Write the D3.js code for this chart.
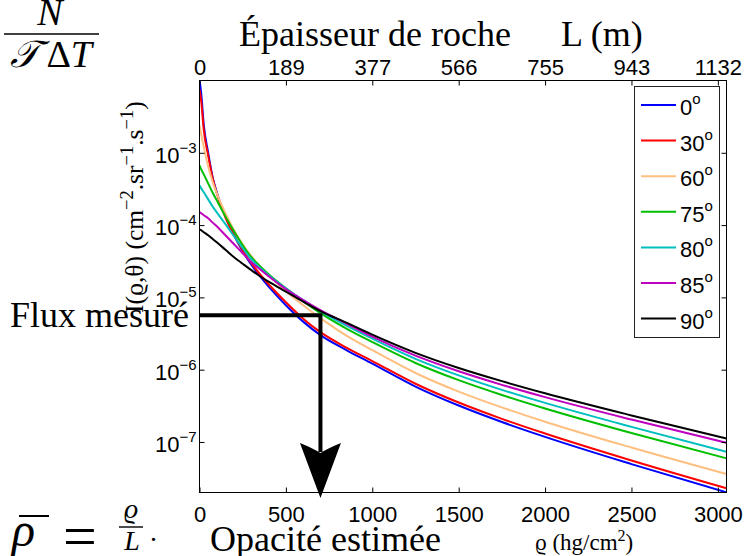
<!DOCTYPE html>
<html><head><meta charset="utf-8">
<script src="https://cdn.jsdelivr.net/npm/d3@7"></script>
<style>
body{margin:0;background:#fff}
svg{display:block}
.serif{font-family:"Liberation Serif","Times New Roman",serif}
.sans{font-family:"Liberation Sans",Arial,sans-serif}
</style></head><body>
<svg id="chart" width="746" height="556"></svg>
<script>
// Opacity samples (hg/cm²) shared by every zenith-angle curve
const opacityValues = [0,10,25,50,75,100,150,200,250,300,350,400,500,600,700,850,1000,1250,1500,1750,2000,2500,3050];
// Integrated muon flux I(ϱ,θ) in cm⁻².sr⁻¹.s⁻¹ for each zenith angle
const flux0  = [1.03e-2,6.61e-3,2.39e-3,1.01e-3,4.72e-4,2.84e-4,1.32e-4,7.23e-5,4.35e-5,2.83e-5,1.96e-5,1.41e-5,7.80e-6,4.62e-6,3.01e-6,1.87e-6,1.214e-6,5.84e-7,3.19e-7,1.889e-7,1.176e-7,4.94e-8,2.01e-8];
const flux30 = [7.51e-3,5.13e-3,2.04e-3,9.2e-4,4.57e-4,2.75e-4,1.28e-4,7.23e-5,4.49e-5,2.97e-5,2.09e-5,1.52e-5,8.58e-6,5.08e-6,3.31e-6,2.02e-6,1.315e-6,6.39e-7,3.51e-7,2.09e-7,1.310e-7,5.55e-8,2.29e-8];
const flux60 = [2.39e-3,1.80e-3,1.19e-3,6.49e-4,4.03e-4,2.75e-4,1.46e-4,8.48e-5,5.43e-5,3.71e-5,2.70e-5,2.03e-5,1.22e-5,7.8e-6,5.16e-6,2.96e-6,1.865e-6,9.00e-7,4.98e-7,3.01e-7,1.907e-7,8.37e-8,3.60e-8];
const flux75 = [6.70e-4,5.90e-4,5.03e-4,3.78e-4,2.84e-4,2.20e-4,1.32e-4,8.2e-5,5.26e-5,3.59e-5,2.70e-5,2.09e-5,1.34e-5,8.87e-6,6.05e-6,3.70e-6,2.41e-6,1.237e-6,7.16e-7,4.47e-7,2.91e-7,1.331e-7,5.94e-8];
const flux80 = [3.55e-4,3.22e-4,2.84e-4,2.27e-4,1.82e-4,1.50e-4,1.03e-4,7.0e-5,4.78e-5,3.37e-5,2.57e-5,2.03e-5,1.34e-5,9.15e-6,6.45e-6,4.07e-6,2.69e-6,1.414e-6,8.34e-7,5.26e-7,3.47e-7,1.617e-7,7.32e-8];
const flux85 = [1.52e-4,1.46e-4,1.37e-4,1.24e-4,1.09e-4,9.62e-5,7.23e-5,5.43e-5,4.08e-5,3.06e-5,2.45e-5,1.96e-5,1.30e-5,9.15e-6,6.65e-6,4.34e-6,2.866e-6,1.561e-6,9.50e-7,6.17e-7,4.17e-7,2.04e-7,9.75e-8];
const flux90 = [8.75e-5,8.48e-5,7.96e-5,7.23e-5,6.47e-5,5.78e-5,4.56e-5,3.59e-5,2.92e-5,2.38e-5,1.96e-5,1.65e-5,1.20e-5,8.73e-6,6.45e-6,4.47e-6,3.05e-6,1.71e-6,1.055e-6,6.94e-7,4.72e-7,2.33e-7,1.12e-7];

const angleLabels = ["0","30","60","75","80","85","90"];
const angleColors = ["#0000ff","#ff0000","#ffbf80","#00bf00","#00bfbf","#bf00bf","#000000"];
const fluxSeries = [flux0,flux30,flux60,flux75,flux80,flux85,flux90];

// Axis ticks
const rhoTicks = [0,500,1000,1500,2000,2500,3000];
const depthTickLabels = ["0","189","377","566","755","943","1132"];
const decadeTicks = [1e-7,1e-6,1e-5,1e-4,1e-3];
const decadeExponents = ["−7","−6","−5","−4","−3"];

// Measurement read-out: measured flux and the opacity it corresponds to
const measuredFlux = 5.68e-6;
const estimatedOpacity = 700;

const svg = d3.select("#chart");
const x = d3.scaleLinear().domain([0, 3050]).range([199.5, 726.5]);
const y = d3.scaleLog().domain([2e-8, 1e-2]).range([492.5, 80.5]);
const [x0, x1] = x.range();
const [yB, yT] = y.range();

svg.append("defs").append("clipPath").attr("id","plotClip")
  .append("rect").attr("x",x0).attr("y",yT).attr("width",x1-x0).attr("height",yB-yT);

// Curves
const line = d3.line()
  .x((d,i)=>x(opacityValues[i]))
  .y(d=>y(d))
  .curve(d3.curveMonotoneX);

svg.append("g").attr("clip-path","url(#plotClip)")
  .selectAll("path").data(fluxSeries).join("path")
  .attr("d", d=>line(d))
  .attr("fill","none")
  .attr("stroke",(d,i)=>angleColors[i])
  .attr("stroke-width",2)
  .attr("stroke-linejoin","round");

// Axes (ticks point inward)
const axisFont = g => g.selectAll("text").attr("class","sans").style("font-size","22px").attr("fill","#000");
const clean = g => { g.select(".domain").remove(); g.selectAll(".tick line").attr("stroke","#000"); };

svg.append("g").attr("transform",`translate(0,${yB})`)
  .call(d3.axisBottom(x).tickValues(rhoTicks).tickSizeInner(-5).tickSizeOuter(0).tickPadding(14).tickFormat(d3.format("d")))
  .call(clean).call(axisFont);

svg.append("g").attr("transform",`translate(0,${yT})`)
  .call(d3.axisTop(x).tickValues(rhoTicks).tickSizeInner(-5).tickSizeOuter(0).tickPadding(6)
        .tickFormat((d,i)=>depthTickLabels[i]))
  .call(clean).call(axisFont);

svg.append("g").attr("transform",`translate(${x0},0)`)
  .call(d3.axisLeft(y).tickValues(decadeTicks).tickSizeInner(-5).tickSizeOuter(0).tickFormat(""))
  .call(clean);

svg.append("g").attr("transform",`translate(${x1},0)`)
  .call(d3.axisRight(y).tickValues(decadeTicks).tickSizeInner(-5).tickSizeOuter(0).tickFormat(""))
  .call(clean);

// Decade labels 10^n
const yLab = svg.append("g").selectAll("text").data(decadeTicks).join("text")
  .attr("class","sans").attr("text-anchor","end")
  .attr("x", x0-3).attr("y", d=>y(d)+10).style("font-size","22px");
yLab.append("tspan").text("10");
yLab.append("tspan").attr("dy",-10).style("font-size","15px").text((d,i)=>decadeExponents[i]);

// Plot frame
svg.append("rect").attr("x",x0).attr("y",yT).attr("width",x1-x0).attr("height",yB-yT)
  .attr("fill","none").attr("stroke","#000").attr("stroke-width",1);

// Legend
const lg = svg.append("g");
lg.append("rect").attr("x",634.5).attr("y",86.5).attr("width",85).attr("height",251)
  .attr("fill","#fff").attr("stroke","#222").attr("stroke-width",1);
const items = lg.selectAll("g.item").data(angleLabels).join("g")
  .attr("transform",(d,i)=>`translate(0,${105 + i*35.6})`);
items.append("line").attr("x1",641).attr("x2",676).attr("y1",0).attr("y2",0)
  .attr("stroke",(d,i)=>angleColors[i]).attr("stroke-width",2);
const lt = items.append("text").attr("class","sans").attr("x",680).attr("y",10).style("font-size","22px");
lt.append("tspan").text(d=>d);
lt.append("tspan").attr("dy",-11).style("font-size","15px").text("o");

// Measurement read-out: horizontal then vertical line with arrow
const ax = x(estimatedOpacity), ay = y(measuredFlux);
const tipY = yB + 5.5;
svg.append("path")
  .attr("d",`M${x0},${ay}H${ax}V${tipY-46}`)
  .attr("fill","none").attr("stroke","#000").attr("stroke-width",4).attr("stroke-linejoin","miter");
svg.append("path")
  .attr("d",`M${ax},${tipY}L${ax-20.5},${tipY-55}Q${ax-8},${tipY-50} ${ax},${tipY-45}Q${ax+8},${tipY-50} ${ax+20.5},${tipY-55}Z`)
  .attr("fill","#000");

// Titles and annotations
svg.append("text").attr("class","serif").attr("x",239).attr("y",46).style("font-size","36px")
  .text("Épaisseur de roche");
svg.append("text").attr("class","serif").attr("x",561).attr("y",46).style("font-size","36px")
  .text("L (m)");

svg.append("text").attr("class","serif").attr("x",10).attr("y",327).style("font-size","36px")
  .text("Flux mesuré");
svg.append("text").attr("class","serif").attr("x",210).attr("y",551).style("font-size","36px")
  .text("Opacité estimée");

const xl = svg.append("text").attr("class","serif").attr("x",535).attr("y",550).style("font-size","23px");
xl.append("tspan").text("ϱ (hg/cm");
xl.append("tspan").attr("dy",-9).style("font-size","16px").text("2");
xl.append("tspan").attr("dy",9).text(")");

const yl = svg.append("text").attr("class","serif")
  .attr("transform","translate(143,313) rotate(-90)").style("font-size","25.5px");
yl.append("tspan").text("I(ϱ,θ) (cm");
yl.append("tspan").attr("dy",-10).style("font-size","18.5px").text("−2");
yl.append("tspan").attr("dy",10).text(".sr");
yl.append("tspan").attr("dy",-10).style("font-size","18.5px").text("−1");
yl.append("tspan").attr("dy",10).text(".s");
yl.append("tspan").attr("dy",-10).style("font-size","18.5px").text("−1");
yl.append("tspan").attr("dy",10).text(")");

// N / (𝒯 ΔT)
svg.append("text").attr("class","serif").attr("x",50).attr("y",25).attr("text-anchor","middle")
  .style("font-size","38px").style("font-style","italic").text("N");
svg.append("line").attr("x1",4).attr("x2",99).attr("y1",34).attr("y2",34).attr("stroke","#000").attr("stroke-width",1.6);
const den = svg.append("text").attr("class","serif").attr("x",51).attr("y",67).attr("text-anchor","middle").style("font-size","38px");
den.append("tspan").style("font-style","italic").text("𝒯");
den.append("tspan").text(" Δ");
den.append("tspan").style("font-style","italic").text("T");

// ρ̄ = ϱ / L
svg.append("text").attr("class","serif").attr("x",12).attr("y",546)
  .style("font-size","48px").style("font-style","italic").text("ρ");
svg.append("line").attr("x1",19).attr("x2",49).attr("y1",516).attr("y2",516).attr("stroke","#000").attr("stroke-width",2);
svg.append("text").attr("class","serif").attr("x",80).attr("y",556).attr("text-anchor","middle")
  .style("font-size","60px").text("=");
svg.append("text").attr("class","serif").attr("x",131).attr("y",518).attr("text-anchor","middle")
  .style("font-size","28px").style("font-style","italic").text("ϱ");
svg.append("line").attr("x1",119).attr("x2",143).attr("y1",527).attr("y2",527).attr("stroke","#000").attr("stroke-width",1.4);
svg.append("text").attr("class","serif").attr("x",132).attr("y",550).attr("text-anchor","middle")
  .style("font-size","28px").style("font-style","italic").text("L");
svg.append("text").attr("class","serif").attr("x",150).attr("y",541)
  .style("font-size","28px").text(".");
</script>
</body></html>
